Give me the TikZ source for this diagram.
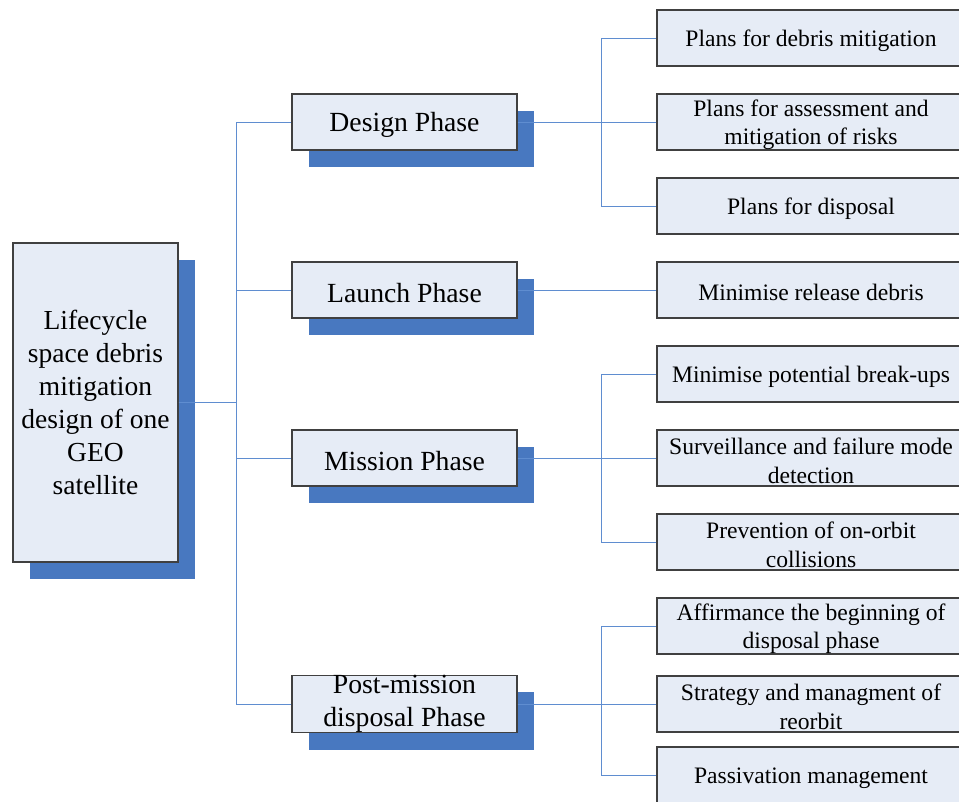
\documentclass[tikz,border=0pt]{standalone}
\usepackage{fontspec}
\setmainfont{Liberation Serif}
\usepackage{xcolor}
\usetikzlibrary{shadows}
\definecolor{cardfill}{HTML}{E6ECF6}
\definecolor{shadeblue}{HTML}{4878C0}
\definecolor{wireblue}{HTML}{5F8DD0}
\tikzset{
  card/.style={draw=black!75,line width=1.2pt,fill=cardfill,inner sep=0pt,align=center},
  shadowcard/.style={card,drop shadow={shadow xshift=17pt,shadow yshift=-17pt,opacity=1,fill=shadeblue}},
  rootcard/.style={shadowcard,minimum width=165pt,minimum height=319pt,font=\fontsize{27.5}{33}\selectfont},
  phasecard/.style={shadowcard,minimum width=225pt,minimum height=56pt,font=\fontsize{27.7}{33}\selectfont},
  leafcard/.style={card,minimum width=308pt,minimum height=56pt,font=\fontsize{23.6}{28.4}\selectfont},
  wire/.style={draw=wireblue,line width=1pt}}
\newcommand{\phasenode}[3]{\node[phasecard] (#1) at (404.5,#2) {\rule{0pt}{25pt}#3};}
\newcommand{\leafnode}[3]{\node[leafcard] (#1) at (811,#2) {\rule{0pt}{22pt}#3};}

\begin{document}
\begin{tikzpicture}[x=1pt,y=-1pt]
    \clip (0,0) rectangle (959,801);
    \node[rootcard] (root) at (95.5,402.5)
      {Lifecycle\\space debris\\mitigation\\design of one\\GEO\\satellite};
    \phasenode{design}{122}{Design Phase}
    \phasenode{launch}{290}{Launch Phase}
    \phasenode{mission}{458}{Mission Phase}
    \node[phasecard] (post) at (404.5,704) {Post-mission\\disposal Phase};
    \leafnode{leaf1}{38}{Plans for debris mitigation}
    \leafnode{leaf2}{122}{Plans for assessment and\\mitigation of risks}
    \leafnode{leaf3}{206}{Plans for disposal}
    \leafnode{leaf4}{290}{Minimise release debris}
    \leafnode{leaf5}{374}{Minimise potential break-ups}
    \leafnode{leaf6}{458}{Surveillance and failure mode\\detection}
    \leafnode{leaf7}{542}{Prevention of on-orbit\\collisions}
    \leafnode{leaf8}{626}{Affirmance the beginning of\\disposal phase}
    \leafnode{leaf9}{704}{Strategy and managment of\\reorbit}
    \leafnode{leaf10}{775}{Passivation management}
    % trunk to the phases
    \coordinate (trunk) at (236,0);
    \coordinate (fork) at (601,0);
    \draw[wire] (root.east) -- (trunk |- root.east);
    \draw[wire] (trunk |- design.west) -- (trunk |- post.west);
    \foreach \p in {design,launch,mission,post}{\draw[wire] (trunk |- \p.west) -- (\p.west);}
    % phases to the leaves
    \draw[wire] (design.east) -- (leaf2.west);
    \draw[wire] (launch.east) -- (leaf4.west);
    \draw[wire] (mission.east) -- (leaf6.west);
    \draw[wire] (post.east) -- (leaf9.west);
    \draw[wire] (fork |- leaf1.west) -- (fork |- leaf3.west);
    \draw[wire] (fork |- leaf5.west) -- (fork |- leaf7.west);
    \draw[wire] (fork |- leaf8.west) -- (fork |- leaf10.west);
    \foreach \n in {1,3,5,7,8,10}{\draw[wire] (fork |- leaf\n.west) -- (leaf\n.west);}
  \end{tikzpicture}
\end{document}
